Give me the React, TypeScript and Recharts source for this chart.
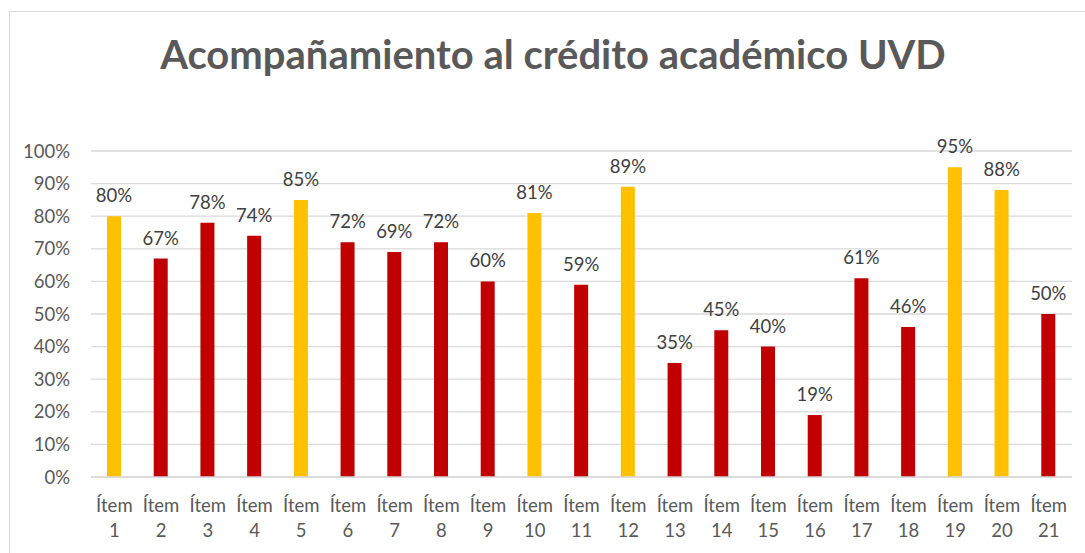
import React from "react";
import { BarChart, Bar, XAxis, YAxis, CartesianGrid, Cell, LabelList } from "recharts";

const categories = ["Ítem 1","Ítem 2","Ítem 3","Ítem 4","Ítem 5","Ítem 6","Ítem 7","Ítem 8","Ítem 9","Ítem 10","Ítem 11","Ítem 12","Ítem 13","Ítem 14","Ítem 15","Ítem 16","Ítem 17","Ítem 18","Ítem 19","Ítem 20","Ítem 21"];
const values = [0.80,0.67,0.78,0.74,0.85,0.72,0.69,0.72,0.60,0.81,0.59,0.89,0.35,0.45,0.40,0.19,0.61,0.46,0.95,0.88,0.50];
const highlighted = ["Ítem 1","Ítem 5","Ítem 10","Ítem 12","Ítem 19","Ítem 20"];
const yTicks = [0,0.1,0.2,0.3,0.4,0.5,0.6,0.7,0.8,0.9,1.0];
const title = "Acompañamiento al crédito académico UVD";

const data = categories.map((c, i) => ({ name: c, value: values[i] }));

const FONT = "Lato, 'Noto Sans', sans-serif";
const pct = (v: number) => `${Math.round(v * 100)}%`;

const XTick = (props: any) => {
  const { x, y, payload } = props;
  const parts = String(payload.value).split(" ");
  return (
    <g transform={`translate(${x},${y})`}>
      <text textAnchor="middle" fill="#595959" fontFamily={FONT} fontSize={18.5}>
        <tspan x={0} y={27}>{parts[0]}</tspan>
        <tspan x={0} y={52}>{parts[1]}</tspan>
      </text>
    </g>
  );
};

export default function App() {
  return (
    <div style={{ position: "absolute", left: 0, top: 0, width: 1085, height: 553, overflow: "hidden", background: "#fff" }}>
      <div style={{ position: "absolute", left: 9, top: 11, width: 1200, height: 700, border: "1.5px solid #d9d9d9", boxSizing: "border-box" }} />
      <div style={{ position: "absolute", left: 0, top: 29, width: 1106, textAlign: "center", fontFamily: FONT, fontWeight: 700, fontSize: 40, color: "#595959", lineHeight: "50px" }}>
        {title}
      </div>
      <div style={{ position: "absolute", left: 0, top: 0 }}>
        <BarChart width={1085} height={553} data={data} margin={{ top: 151, right: 13, bottom: 0, left: 0 }}>
          <CartesianGrid vertical={false} stroke="#d9d9d9" strokeWidth={1.3} />
          <XAxis dataKey="name" height={76} interval={0} tick={<XTick />} tickLine={false} axisLine={{ stroke: "#d9d9d9", strokeWidth: 1.3 }} />
          <YAxis width={91} domain={[0, 1]} ticks={yTicks} tickFormatter={pct} tickLine={false} axisLine={false}
            tickMargin={15} tick={{ fill: "#595959", fontFamily: FONT, fontSize: 18.5 }} />
          <Bar dataKey="value" barSize={14} isAnimationActive={false}>
            {data.map((d) => (
              <Cell key={d.name} fill={highlighted.includes(d.name) ? "#FFC000" : "#C00000"} />
            ))}
            <LabelList dataKey="value" position="top" offset={14} formatter={(v: any) => pct(Number(v))}
              style={{ fill: "#404040", fontFamily: FONT, fontSize: 18.5 }} />
          </Bar>
        </BarChart>
      </div>
    </div>
  );
}
